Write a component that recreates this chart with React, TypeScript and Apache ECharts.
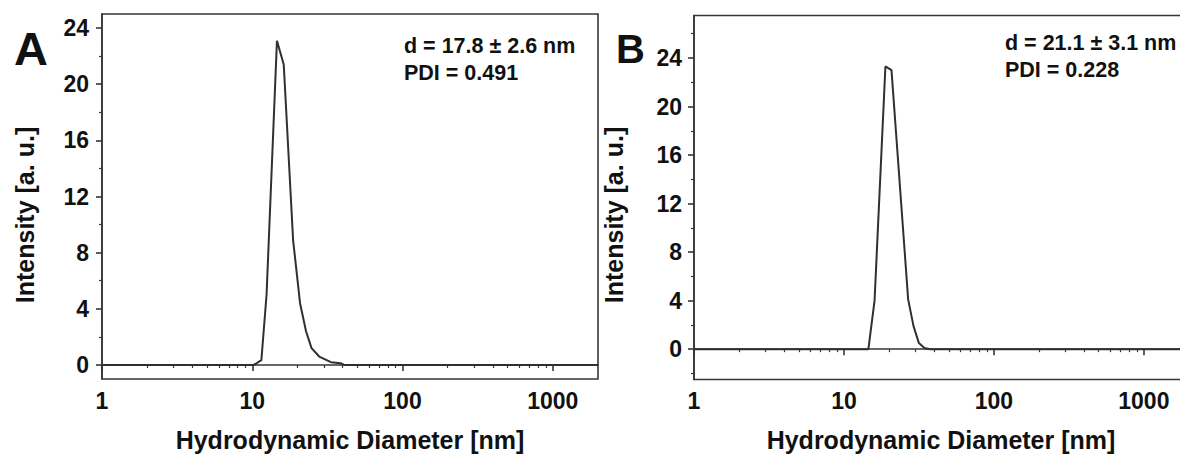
import React, { useEffect, useRef } from "react";
import * as echarts from "echarts";

// ---- data ----
const diameterA = [1, 10.25, 11.5, 12.45, 14.6, 16.2, 18.7, 20.8, 22.8, 24.8, 27.9, 33.4, 38.7, 40.9, 2000];
const intensityA = [0, 0, 0.35, 5.0, 23.1, 21.4, 8.9, 4.4, 2.4, 1.2, 0.6, 0.2, 0.12, 0, 0];
const diameterB = [1, 14.55, 16.0, 18.9, 20.75, 26.8, 29.1, 31.6, 34.4, 37.5, 2000];
const intensityB = [0, 0, 4.0, 23.3, 23.0, 4.1, 1.9, 0.5, 0.1, 0, 0];

const xMajorTicks = [1, 10, 100, 1000];
const xMinorTicks = [2, 3, 4, 5, 6, 7, 8, 9, 20, 30, 40, 50, 60, 70, 80, 90, 200, 300, 400, 500, 600, 700, 800, 900];
const yMajorTicks = [0, 4, 8, 12, 16, 20, 24];
const yMinorTicksA = [2, 6, 10, 14, 18, 22];
const yMinorTicksB = [-2, 2, 6, 10, 14, 18, 22, 26];

const panelLetters = ["A", "B"];
const statsA = ["d = 17.8 ± 2.6 nm", "PDI = 0.491"];
const statsB = ["d = 21.1 ± 3.1 nm", "PDI = 0.228"];
const xTitle = "Hydrodynamic Diameter [nm]";
const yTitle = "Intensity [a. u.]";

const FONT = "'Liberation Sans', Arial, sans-serif";
const AXIS = "#363636";
const TEXT = "#111111";

function xAxesFor(gridIndex: number) {
  const major = {
    type: "log",
    logBase: 10,
    gridIndex,
    min: 1,
    max: 2000,
    position: "bottom",
    axisLine: { show: true, lineStyle: { color: AXIS, width: 1.6 } },
    axisTick: { show: true, inside: false, length: 6, customValues: xMajorTicks, lineStyle: { color: AXIS, width: 1.6 } },
    axisLabel: {
      customValues: xMajorTicks,
      margin: 10,
      fontSize: 23,
      fontWeight: "bold",
      fontFamily: FONT,
      color: TEXT,
      formatter: (v: number) => String(Math.round(v)),
    },
    splitLine: { show: false },
    minorTick: { show: false },
  };
  const minor = {
    type: "log",
    logBase: 10,
    gridIndex,
    min: 1,
    max: 2000,
    position: "bottom",
    axisLine: { show: false },
    axisTick: { show: true, inside: false, length: 3, customValues: xMinorTicks, lineStyle: { color: AXIS, width: 1.2 } },
    axisLabel: { show: false },
    splitLine: { show: false },
  };
  return [major, minor];
}

function yAxesFor(gridIndex: number, min: number, max: number, minorTicks: number[], margin: number) {
  const major = {
    type: "value",
    gridIndex,
    min,
    max,
    position: "left",
    axisLine: { show: true, lineStyle: { color: AXIS, width: 1.6 } },
    axisTick: { show: true, inside: false, length: 6, customValues: yMajorTicks, lineStyle: { color: AXIS, width: 1.6 } },
    axisLabel: {
      customValues: yMajorTicks,
      margin,
      fontSize: 23,
      fontWeight: "bold",
      fontFamily: FONT,
      color: TEXT,
    },
    splitLine: { show: false },
  };
  const minor = {
    type: "value",
    gridIndex,
    min,
    max,
    position: "left",
    axisLine: { show: false },
    axisTick: { show: true, inside: false, length: 3, customValues: minorTicks, lineStyle: { color: AXIS, width: 1.2 } },
    axisLabel: { show: false },
    splitLine: { show: false },
  };
  return [major, minor];
}

function txt(text: string, x: number, y: number, size: number, extra: any = {}) {
  return {
    type: "text",
    x,
    y,
    silent: true,
    ...extra,
    style: {
      text,
      fill: TEXT,
      font: `bold ${size}px ${FONT}`,
      verticalAlign: "middle",
      align: extra.align || "left",
    },
  };
}

export default function App() {
  const ref = useRef<HTMLDivElement>(null);

  useEffect(() => {
    if (!ref.current) return;
    const chart = echarts.init(ref.current, undefined, { renderer: "svg" });
    const option: any = {
      animation: false,
      backgroundColor: "#ffffff",
      grid: [
        { left: 102, top: 14, width: 496, height: 365, show: true, borderColor: AXIS, borderWidth: 1.6, backgroundColor: "transparent", containLabel: false },
        { left: 694, top: 15.5, width: 495, height: 364, show: true, borderColor: AXIS, borderWidth: 1.6, backgroundColor: "transparent", containLabel: false },
      ],
      xAxis: [...xAxesFor(0), ...xAxesFor(1)],
      yAxis: [...yAxesFor(0, -1, 25, yMinorTicksA, 13), ...yAxesFor(1, -2.5, 27.5, yMinorTicksB, 12)],
      series: [
        {
          type: "line",
          xAxisIndex: 0,
          yAxisIndex: 0,
          data: diameterA.map((d, i) => [d, intensityA[i]]),
          showSymbol: false,
          symbol: "none",
          silent: true,
          lineStyle: { color: "#303030", width: 2 },
        },
        {
          type: "line",
          xAxisIndex: 2,
          yAxisIndex: 2,
          data: diameterB.map((d, i) => [d, intensityB[i]]),
          showSymbol: false,
          symbol: "none",
          silent: true,
          lineStyle: { color: "#303030", width: 2 },
        },
      ],
      graphic: [
        txt(panelLetters[0], 14, 48.5, 47),
        txt(panelLetters[1], 616, 48.5, 40),
        txt(statsA[0], 404, 46, 21.5),
        txt(statsA[1], 404, 72.7, 21.5),
        txt(statsB[0], 1005, 43, 21.5),
        txt(statsB[1], 1005, 69.5, 21.5),
        txt(yTitle, 25, 215, 25, { rotation: Math.PI / 2, align: "center" }),
        txt(yTitle, 614, 215, 25, { rotation: Math.PI / 2, align: "center" }),
        txt(xTitle, 350, 440, 25, { align: "center" }),
        txt(xTitle, 941, 440, 25, { align: "center" }),
      ],
    };
    chart.setOption(option);
    return () => chart.dispose();
  }, []);

  return (
    <div style={{ position: "fixed", left: 0, top: 0, width: 1180, height: 454, overflow: "hidden", background: "#fff" }}>
      <div ref={ref} style={{ width: 1200, height: 454 }} />
    </div>
  );
}
